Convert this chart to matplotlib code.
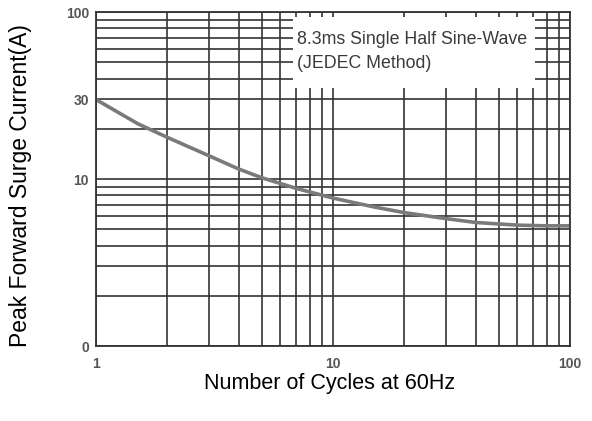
import matplotlib.pyplot as plt
from matplotlib.patches import Rectangle
from matplotlib.ticker import FixedLocator, NullFormatter

plt.rcParams['font.family'] = ['Liberation Sans', 'DejaVu Sans']

## data
cycles = [1, 1.5, 2, 3, 4, 5, 7, 10, 15, 20, 30, 40, 60, 80, 100]
surge_current = [30, 21.5, 17.8, 13.8, 11.5, 10.2, 8.8, 7.7, 6.8, 6.3, 5.8, 5.5, 5.3, 5.25, 5.25]

x_ticks = [1, 10, 100]
x_ticklabels = ['1', '10', '100']
y_ticks = [1, 10, 30, 100]
y_ticklabels = ['0', '10', '30', '100']

note_lines = ['8.3ms Single Half Sine-Wave', '(JEDEC Method)']

fig = plt.figure(figsize=(5.92, 4.21), dpi=100)
ax = fig.add_axes([0.162, 0.178, 0.801, 0.793])

ax.set_xscale('log')
ax.set_yscale('log')
ax.set_xlim(1, 100)
ax.set_ylim(1, 100)

ax.plot(cycles, surge_current, color='#7a7a7a', lw=2.6, zorder=2)

# log grid on both decades
minors = [m * d for d in (1, 10) for m in range(2, 10)]
ax.xaxis.set_minor_locator(FixedLocator(minors))
ax.yaxis.set_minor_locator(FixedLocator(minors))
ax.xaxis.set_minor_formatter(NullFormatter())
ax.yaxis.set_minor_formatter(NullFormatter())
ax.grid(True, which='both', color='#333333', lw=1.2)

ax.set_xticks(x_ticks)
ax.set_xticklabels(x_ticklabels)
ax.set_yticks(y_ticks)
ax.set_yticklabels(y_ticklabels)
ax.tick_params(which='both', length=0)
ax.tick_params(axis='x', pad=8, labelsize=10, labelcolor='#555555')
ax.tick_params(axis='y', pad=5, labelsize=10, labelcolor='#555555')
for lab in ax.get_xticklabels() + ax.get_yticklabels():
    lab.set_fontweight('bold')

for sp in ax.spines.values():
    sp.set_color('#333333')
    sp.set_linewidth(1.3)

# white note box over the grid
ax.add_patch(Rectangle((0.416, 0.772), 0.51, 0.213, transform=ax.transAxes,
                       facecolor='white', edgecolor='none', zorder=1.8))
ax.text(0.425, 0.918, note_lines[0], transform=ax.transAxes, fontsize=12.8,
        color='#3a3a3a', va='center', ha='left', zorder=3)
ax.text(0.425, 0.846, note_lines[1], transform=ax.transAxes, fontsize=12.8,
        color='#3a3a3a', va='center', ha='left', zorder=3)

fig.text(0.556, 0.09, 'Number of Cycles at 60Hz', ha='center', va='center', fontsize=15.5)
fig.text(0.035, 0.56, 'Peak Forward Surge Current(A)', ha='center', va='center',
         rotation=90, fontsize=16.5)

fig.savefig('out.png', dpi=100)
